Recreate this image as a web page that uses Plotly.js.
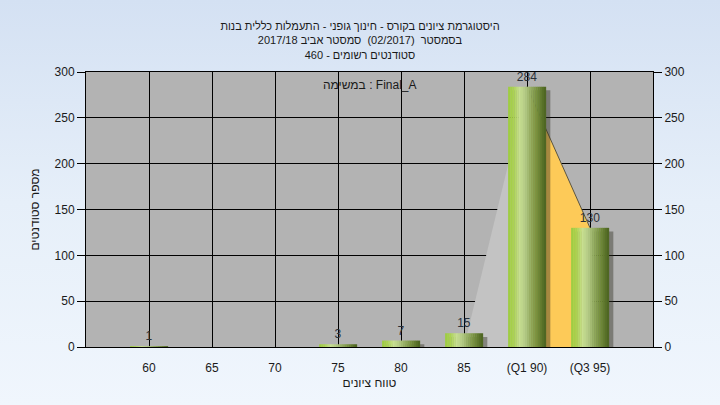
<!DOCTYPE html>
<html>
<head>
<meta charset="utf-8">
<script src="https://cdn.plot.ly/plotly-3.0.1.min.js"></script>
<style>
  html, body { margin: 0; padding: 0; width: 720px; height: 405px; overflow: hidden;
    background: linear-gradient(to bottom, #d4e1f3 0%, #e6eff9 50%, #f0f6fd 100%); }
  #chart { width: 720px; height: 405px; }
</style>
</head>
<body>
<div id="chart"></div>
<script>
// ---- data ----
const categories = ["60", "65", "70", "75", "80", "85", "(Q1 90)", "(Q3 95)"];
const counts = [1, 0, 0, 3, 7, 15, 284, 130];
const yTickVals = [0, 50, 100, 150, 200, 250, 300];
const rampX = ["85", "(Q1 90)"];
const rampY = [0, 284];
const iqrX = ["(Q1 90)", "(Q3 95)"];
const iqrY = [284, 130];
const titleLines = [
  "היסטוגרמת ציונים בקורס - חינוך גופני - התעמלות כללית בנות",
  "בסמסטר  (02/2017)  סמסטר אביב 2017/18",
  "סטודנטים רשומים - 460"
];
const taskNote = "במשימה : Final_A";
const xTitle = "טווח ציונים";
const yTitle = "מספר סטודנטים";

// ---- styling helpers ----
const barWidth = 0.6;
const stops = [
  [0.00, [156, 203, 63]],
  [0.15, [172, 212, 82]],
  [0.30, [200, 224, 145]],
  [0.45, [179, 201, 133]],
  [0.60, [148, 173, 96]],
  [0.75, [120, 146, 63]],
  [0.90, [91, 116, 41]],
  [1.00, [74, 98, 32]]
];
function rampColor(t) {
  for (let i = 1; i < stops.length; i++) {
    if (t <= stops[i][0]) {
      const a = stops[i - 1], b = stops[i];
      const f = (t - a[0]) / (b[0] - a[0]);
      const c = a[1].map((v, k) => Math.round(v + (b[1][k] - v) * f));
      return `rgb(${c[0]},${c[1]},${c[2]})`;
    }
  }
  const c = stops[stops.length - 1][1];
  return `rgb(${c[0]},${c[1]},${c[2]})`;
}

const traces = [];

// area behind bars (light grey ramp, orange Q1-Q3 band) on the base subplot
traces.push({
  type: 'scatter', x: rampX, y: rampY, mode: 'lines', fill: 'tozeroy',
  fillcolor: '#c3c3c3', line: { width: 0, color: '#c3c3c3' },
  hoverinfo: 'skip', showlegend: false
});
traces.push({
  type: 'scatter', x: iqrX, y: iqrY, mode: 'lines', fill: 'tozeroy',
  fillcolor: '#fdca58', line: { width: 1, color: '#5c5540' },
  hoverinfo: 'skip', showlegend: false
});

// shadow of bars (overlay subplot -> drawn above the areas)
traces.push({
  type: 'bar', x: categories, y: counts, base: -4, yaxis: 'y2',
  width: barWidth, offset: -barWidth / 2 + 0.07,
  marker: { color: 'rgba(45,45,30,0.42)', line: { width: 0 } },
  cliponaxis: false, hoverinfo: 'skip', showlegend: false
});

// gradient bars built from slices
const nSlices = 18;
const sliceW = barWidth / nSlices;
for (let i = 0; i < nSlices; i++) {
  traces.push({
    type: 'bar', x: categories, y: counts, yaxis: 'y2',
    width: sliceW + 0.004, offset: -barWidth / 2 + i * sliceW,
    marker: { color: rampColor((i + 0.5) / nSlices), line: { width: 0 } },
    hoverinfo: 'skip', showlegend: false
  });
}

// value labels
traces.push({
  type: 'bar', x: categories, y: counts, yaxis: 'y2',
  width: barWidth, offset: -barWidth / 2,
  marker: { color: 'rgba(0,0,0,0)', line: { width: 0 } },
  text: counts.map(v => v ? String(v) : ''),
  textposition: 'outside', cliponaxis: false,
  textfont: { family: 'Liberation Sans, Arial, sans-serif', size: 12, color: '#2a3038' },
  hoverinfo: 'skip', showlegend: false
});

const font = { family: 'Liberation Sans, Arial, sans-serif', size: 12, color: '#1a1a1a' };

const layout = {
  width: 720, height: 405,
  margin: { l: 86, r: 67, t: 72, b: 58 },
  paper_bgcolor: 'rgba(0,0,0,0)',
  plot_bgcolor: '#b3b3b3',
  font: font,
  barmode: 'overlay',
  showlegend: false,
  title: {
    text: titleLines.join('<br>'),
    font: { family: 'Liberation Sans, Arial, sans-serif', size: 11, color: '#1a1a1a' },
    x: 0.5, xanchor: 'center', y: 1 - 30 / 405, yanchor: 'middle', yref: 'container'
  },
  xaxis: {
    type: 'category', categoryorder: 'array', categoryarray: categories,
    range: [-1, 8],
    showgrid: true, gridcolor: '#000000', gridwidth: 1,
    showline: true, linecolor: '#000000', linewidth: 1, mirror: true,
    ticks: 'outside', ticklen: 10, tickcolor: 'rgba(0,0,0,0)',
    tickfont: font, zeroline: false, fixedrange: true,
    title: { text: xTitle, font: { family: 'Liberation Sans, Arial, sans-serif', size: 12, color: '#1a1a1a' }, standoff: 4 }
  },
  yaxis: {
    range: [0, 300], tickvals: yTickVals, ticktext: yTickVals.map(String),
    showgrid: true, gridcolor: '#000000', gridwidth: 1,
    showline: true, linecolor: '#000000', linewidth: 1, mirror: true,
    ticks: 'outside', ticklen: 8, tickcolor: '#000000',
    tickfont: font, zeroline: false, fixedrange: true,
    title: { text: yTitle, font: { family: 'Liberation Sans, Arial, sans-serif', size: 12, color: '#1a1a1a' }, standoff: 12 }
  },
  yaxis2: {
    overlaying: 'y', side: 'right',
    range: [0, 300], tickvals: yTickVals, ticktext: yTickVals.map(String),
    showgrid: false, zeroline: false, showline: false,
    ticks: 'outside', ticklen: 8, tickcolor: '#000000',
    tickfont: font, fixedrange: true
  },
  annotations: [{
    text: taskNote, xref: 'paper', yref: 'paper', x: 0.5, y: (347 - 85) / 275,
    xanchor: 'center', yanchor: 'middle', showarrow: false,
    font: { family: 'Liberation Sans, Arial, sans-serif', size: 12, color: '#1a1a1a' }
  }]
};

Plotly.newPlot('chart', traces, layout, { displayModeBar: false, staticPlot: true });
</script>
</body>
</html>
